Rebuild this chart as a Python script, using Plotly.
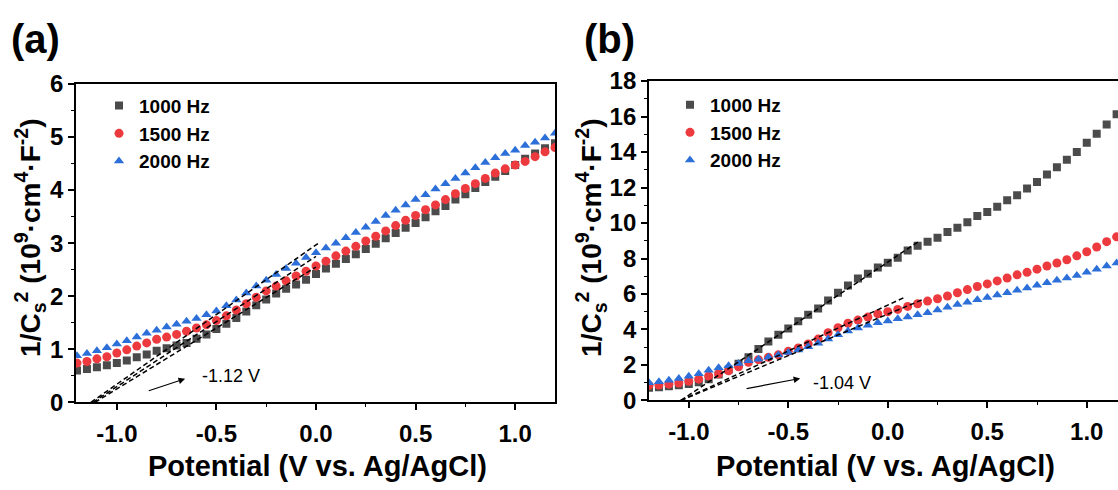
import plotly.graph_objects as go

# ---------------- data ----------------
potential_a = [-1.20, -1.15, -1.10, -1.05, -1.00, -0.95, -0.90, -0.85, -0.80, -0.75,
               -0.70, -0.65, -0.60, -0.55, -0.50, -0.45, -0.40, -0.35, -0.30, -0.25,
               -0.20, -0.15, -0.10, -0.05, 0.00, 0.05, 0.10, 0.15, 0.20, 0.25,
               0.30, 0.35, 0.40, 0.45, 0.50, 0.55, 0.60, 0.65, 0.70, 0.75,
               0.80, 0.85, 0.90, 0.95, 1.00, 1.05, 1.10, 1.15, 1.20]

a_1000 = [0.60, 0.63, 0.66, 0.70, 0.74, 0.79, 0.85, 0.90, 0.97, 1.02,
          1.07, 1.12, 1.20, 1.28, 1.38, 1.48, 1.59, 1.71, 1.83, 1.94,
          2.05, 2.14, 2.22, 2.31, 2.42, 2.52, 2.61, 2.70, 2.79, 2.89,
          2.99, 3.09, 3.19, 3.29, 3.38, 3.49, 3.60, 3.70, 3.82, 3.92,
          4.04, 4.15, 4.25, 4.36, 4.47, 4.59, 4.69, 4.79, 4.88]
a_1500 = [0.74, 0.77, 0.82, 0.86, 0.93, 0.99, 1.06, 1.12, 1.19, 1.23,
          1.28, 1.34, 1.40, 1.46, 1.54, 1.63, 1.74, 1.86, 1.98, 2.10,
          2.19, 2.29, 2.38, 2.47, 2.57, 2.66, 2.76, 2.85, 2.94, 3.04,
          3.13, 3.23, 3.33, 3.43, 3.52, 3.63, 3.72, 3.82, 3.93, 4.03,
          4.12, 4.22, 4.32, 4.40, 4.47, 4.54, 4.63, 4.72, 4.80]
a_2000 = [0.88, 0.92, 0.97, 1.03, 1.10, 1.16, 1.23, 1.30, 1.36, 1.42,
          1.47, 1.53, 1.58, 1.65, 1.72, 1.82, 1.93, 2.06, 2.19, 2.30,
          2.41, 2.52, 2.62, 2.73, 2.82, 2.91, 3.00, 3.10, 3.20, 3.30,
          3.41, 3.52, 3.62, 3.72, 3.82, 3.91, 4.02, 4.12, 4.22, 4.32,
          4.42, 4.52, 4.61, 4.69, 4.75, 4.84, 4.90, 4.98, 5.07]

potential_b = [-1.20, -1.15, -1.10, -1.05, -1.00, -0.95, -0.90, -0.85, -0.80, -0.75,
               -0.70, -0.65, -0.60, -0.55, -0.50, -0.45, -0.40, -0.35, -0.30, -0.25,
               -0.20, -0.15, -0.10, -0.05, 0.00, 0.05, 0.10, 0.15, 0.20, 0.25,
               0.30, 0.35, 0.40, 0.45, 0.50, 0.55, 0.60, 0.65, 0.70, 0.75,
               0.80, 0.85, 0.90, 0.95, 1.00, 1.05, 1.10, 1.15]

b_1000 = [0.72, 0.74, 0.80, 0.86, 0.93, 1.02, 1.20, 1.47, 1.75, 2.07,
          2.43, 2.90, 3.32, 3.71, 4.06, 4.47, 4.83, 5.18, 5.63, 6.07,
          6.48, 6.87, 7.14, 7.49, 7.76, 8.05, 8.45, 8.72, 8.95, 9.17,
          9.50, 9.73, 10.04, 10.39, 10.62, 10.92, 11.28, 11.56, 11.95, 12.31,
          12.74, 13.15, 13.56, 14.00, 14.53, 15.03, 15.56, 16.13]
b_1500 = [0.85, 0.87, 0.92, 0.98, 1.08, 1.20, 1.38, 1.50, 1.67, 1.90,
          2.15, 2.30, 2.43, 2.57, 2.77, 2.96, 3.18, 3.46, 3.82, 4.10,
          4.35, 4.53, 4.70, 4.88, 5.00, 5.13, 5.30, 5.45, 5.60, 5.73,
          5.89, 6.07, 6.25, 6.42, 6.57, 6.74, 6.90, 7.08, 7.22, 7.40,
          7.58, 7.75, 7.93, 8.15, 8.38, 8.65, 8.95, 9.22]
b_2000 = [1.00, 1.05, 1.14, 1.24, 1.37, 1.51, 1.70, 1.84, 1.95, 2.08,
          2.24, 2.32, 2.43, 2.56, 2.70, 2.85, 3.03, 3.23, 3.46, 3.70,
          3.92, 4.08, 4.24, 4.38, 4.48, 4.60, 4.71, 4.83, 4.95, 5.10,
          5.26, 5.41, 5.54, 5.68, 5.81, 5.95, 6.07, 6.21, 6.34, 6.50,
          6.64, 6.78, 6.90, 7.04, 7.22, 7.40, 7.58, 7.75]

# linear Mott-Schottky fits: [x_start, x_end], [y_start, y_end]
fit_a_x = {"1000": [-1.11, 0.00], "1500": [-1.12, 0.00], "2000": [-1.13, 0.02]}
fit_a_y = {"1000": [0.0, 2.55], "1500": [0.0, 2.75], "2000": [0.0, 3.02]}
fit_b_x = {"1000": [-1.04, 0.16], "1500": [-1.04, 0.09], "2000": [-1.04, 0.17]}
fit_b_y = {"1000": [0.0, 9.0], "1500": [0.0, 5.84], "2000": [0.0, 5.66]}

series_names = ["1000 Hz", "1500 Hz", "2000 Hz"]
x_tickvals = [-1.0, -0.5, 0.0, 0.5, 1.0]
x_ticktext = ["-1.0", "-0.5", "0.0", "0.5", "1.0"]
ya_tickvals = [0, 1, 2, 3, 4, 5, 6]
yb_tickvals = [0, 2, 4, 6, 8, 10, 12, 14, 16, 18]

# annotation arrows: tail (x,y) -> head (x,y)
arrow_a = {"tail": (-0.847, 0.21), "head": (-0.657, 0.445), "text": "-1.12 V", "text_pos": (-0.58, 0.50)}
arrow_b = {"tail": (-0.717, 0.65), "head": (-0.44, 1.24), "text": "-1.04 V", "text_pos": (-0.385, 0.97)}

# ---------------- style ----------------
FONT = "Liberation Sans, Arial, sans-serif"
W, H = 1118, 490
colors = {"1000 Hz": "#4b4b4b", "1500 Hz": "#ec3a3f", "2000 Hz": "#2c6fd9"}
symbols = {"1000 Hz": "square", "1500 Hz": "circle", "2000 Hz": "triangle-up"}
sizes = {"1000 Hz": 8, "1500 Hz": 9, "2000 Hz": 9}

def px_x(p):
    return p / W

def px_y(p):
    return (H - p) / H

fig = go.Figure()

for name, ys in zip(series_names, [a_1000, a_1500, a_2000]):
    fig.add_trace(go.Scatter(
        x=potential_a, y=ys, mode="markers", name=name,
        marker=dict(symbol=symbols[name], size=sizes[name], color=colors[name]),
        xaxis="x", yaxis="y", legend="legend"))
for key in ["1000", "1500", "2000"]:
    fig.add_trace(go.Scatter(
        x=fit_a_x[key], y=fit_a_y[key], mode="lines", showlegend=False,
        line=dict(color="black", width=1.5, dash="5px,3px"),
        xaxis="x", yaxis="y"))

for name, ys in zip(series_names, [b_1000, b_1500, b_2000]):
    fig.add_trace(go.Scatter(
        x=potential_b, y=ys, mode="markers", name=name,
        marker=dict(symbol=symbols[name], size=sizes[name], color=colors[name]),
        xaxis="x2", yaxis="y2", legend="legend2"))
for key in ["1000", "1500", "2000"]:
    fig.add_trace(go.Scatter(
        x=fit_b_x[key], y=fit_b_y[key], mode="lines", showlegend=False,
        line=dict(color="black", width=1.5, dash="5px,3px"),
        xaxis="x2", yaxis="y2"))

tickfont = dict(family=FONT, size=24, color="black", weight="bold")
LW = 1.8

def xaxis(domain, rng, anchor):
    return dict(domain=domain, range=rng, anchor=anchor,
                tickvals=x_tickvals, ticktext=x_ticktext,
                showline=True, linecolor="black", linewidth=LW, mirror=True,
                ticks="outside", ticklen=6, tickwidth=1.5, tickcolor="black",
                ticklabelstandoff=3,
                minor=dict(ticks="outside", ticklen=3, tickwidth=1.2, tickcolor="black", dtick=0.25,
                           tick0=0, showgrid=False),
                showgrid=False, zeroline=False, tickfont=tickfont)

def yaxis(domain, rng, anchor, tickvals, minor_dtick, mirror):
    return dict(domain=domain, range=rng, anchor=anchor,
                tickvals=tickvals,
                showline=True, linecolor="black", linewidth=LW, mirror=mirror,
                ticks="outside", ticklen=6, tickwidth=1.5, tickcolor="black",
                minor=dict(ticks="outside", ticklen=3, tickwidth=1.2, tickcolor="black", dtick=minor_dtick,
                           tick0=0, showgrid=False),
                showgrid=False, zeroline=False, tickfont=tickfont)

annotations = []
ytitle = "1/C<sub>s</sub><sup>2</sup> (10<sup>9</sup>·cm<sup>4</sup>·F<sup>-2</sup>)"
xtitle = "Potential (V vs. Ag/AgCl)"
xtitle_font = dict(family=FONT, size=29, color="black", weight="bold")
ytitle_font = dict(family=FONT, size=28, color="black", weight="bold")

# panel a: plot area px 76..555 x, 74..411 y
# panel b: plot area px 649..1118 x, 71..409 y
annotations += [
    dict(text=xtitle, xref="paper", yref="paper", x=px_x(317), y=px_y(478),
         xanchor="center", yanchor="middle", showarrow=False, font=xtitle_font),
    dict(text=xtitle, xref="paper", yref="paper", x=px_x(885), y=px_y(478),
         xanchor="center", yanchor="middle", showarrow=False, font=xtitle_font),
    dict(text=ytitle, xref="paper", yref="paper", x=px_x(30), y=px_y(237),
         xanchor="center", yanchor="middle", textangle=-90, showarrow=False, font=ytitle_font),
    dict(text=ytitle, xref="paper", yref="paper", x=px_x(591), y=px_y(237),
         xanchor="center", yanchor="middle", textangle=-90, showarrow=False, font=ytitle_font),
    dict(text="(a)", xref="paper", yref="paper", x=px_x(35), y=px_y(26),
         xanchor="center", yanchor="middle", showarrow=False,
         font=dict(family=FONT, size=40, color="black", weight="bold")),
    dict(text="(b)", xref="paper", yref="paper", x=px_x(609), y=px_y(26),
         xanchor="center", yanchor="middle", showarrow=False,
         font=dict(family=FONT, size=40, color="black", weight="bold")),
]

for arr, xr, yr in [(arrow_a, "x", "y"), (arrow_b, "x2", "y2")]:
    annotations.append(dict(
        x=arr["head"][0], y=arr["head"][1], ax=arr["tail"][0], ay=arr["tail"][1],
        xref=xr, yref=yr, axref=xr, ayref=yr, text="", showarrow=True,
        arrowhead=2, arrowsize=1.1, arrowwidth=1.2, arrowcolor="black", standoff=0))
    annotations.append(dict(
        x=arr["text_pos"][0], y=arr["text_pos"][1], xref=xr, yref=yr,
        text=arr["text"], showarrow=False, xanchor="left", yanchor="middle",
        font=dict(family=FONT, size=18, color="black")))

legend_font = dict(family=FONT, size=19, color="black", weight="bold")

fig.update_layout(
    width=W, height=H,
    margin=dict(l=0, r=0, t=0, b=0),
    paper_bgcolor="white", plot_bgcolor="white",
    xaxis=xaxis([px_x(76), px_x(555)], [-1.205, 1.2], "y"),
    yaxis=yaxis([px_y(411), px_y(74)], [0, 6], "x", ya_tickvals, 0.5, True),
    xaxis2=xaxis([px_x(649), 1.0], [-1.2, 1.157], "y2"),
    yaxis2=yaxis([px_y(409), px_y(71)], [0, 18], "x2", yb_tickvals, 1, False),
    annotations=annotations,
    showlegend=True,
    legend=dict(x=px_x(99), y=px_y(77), xanchor="left", yanchor="top",
                bgcolor="rgba(0,0,0,0)", font=legend_font, itemwidth=30,
                tracegroupgap=0),
    legend2=dict(x=px_x(670), y=px_y(76), xanchor="left", yanchor="top",
                 bgcolor="rgba(0,0,0,0)", font=legend_font, itemwidth=30,
                 tracegroupgap=0),
)

fig.write_html("out.html")
